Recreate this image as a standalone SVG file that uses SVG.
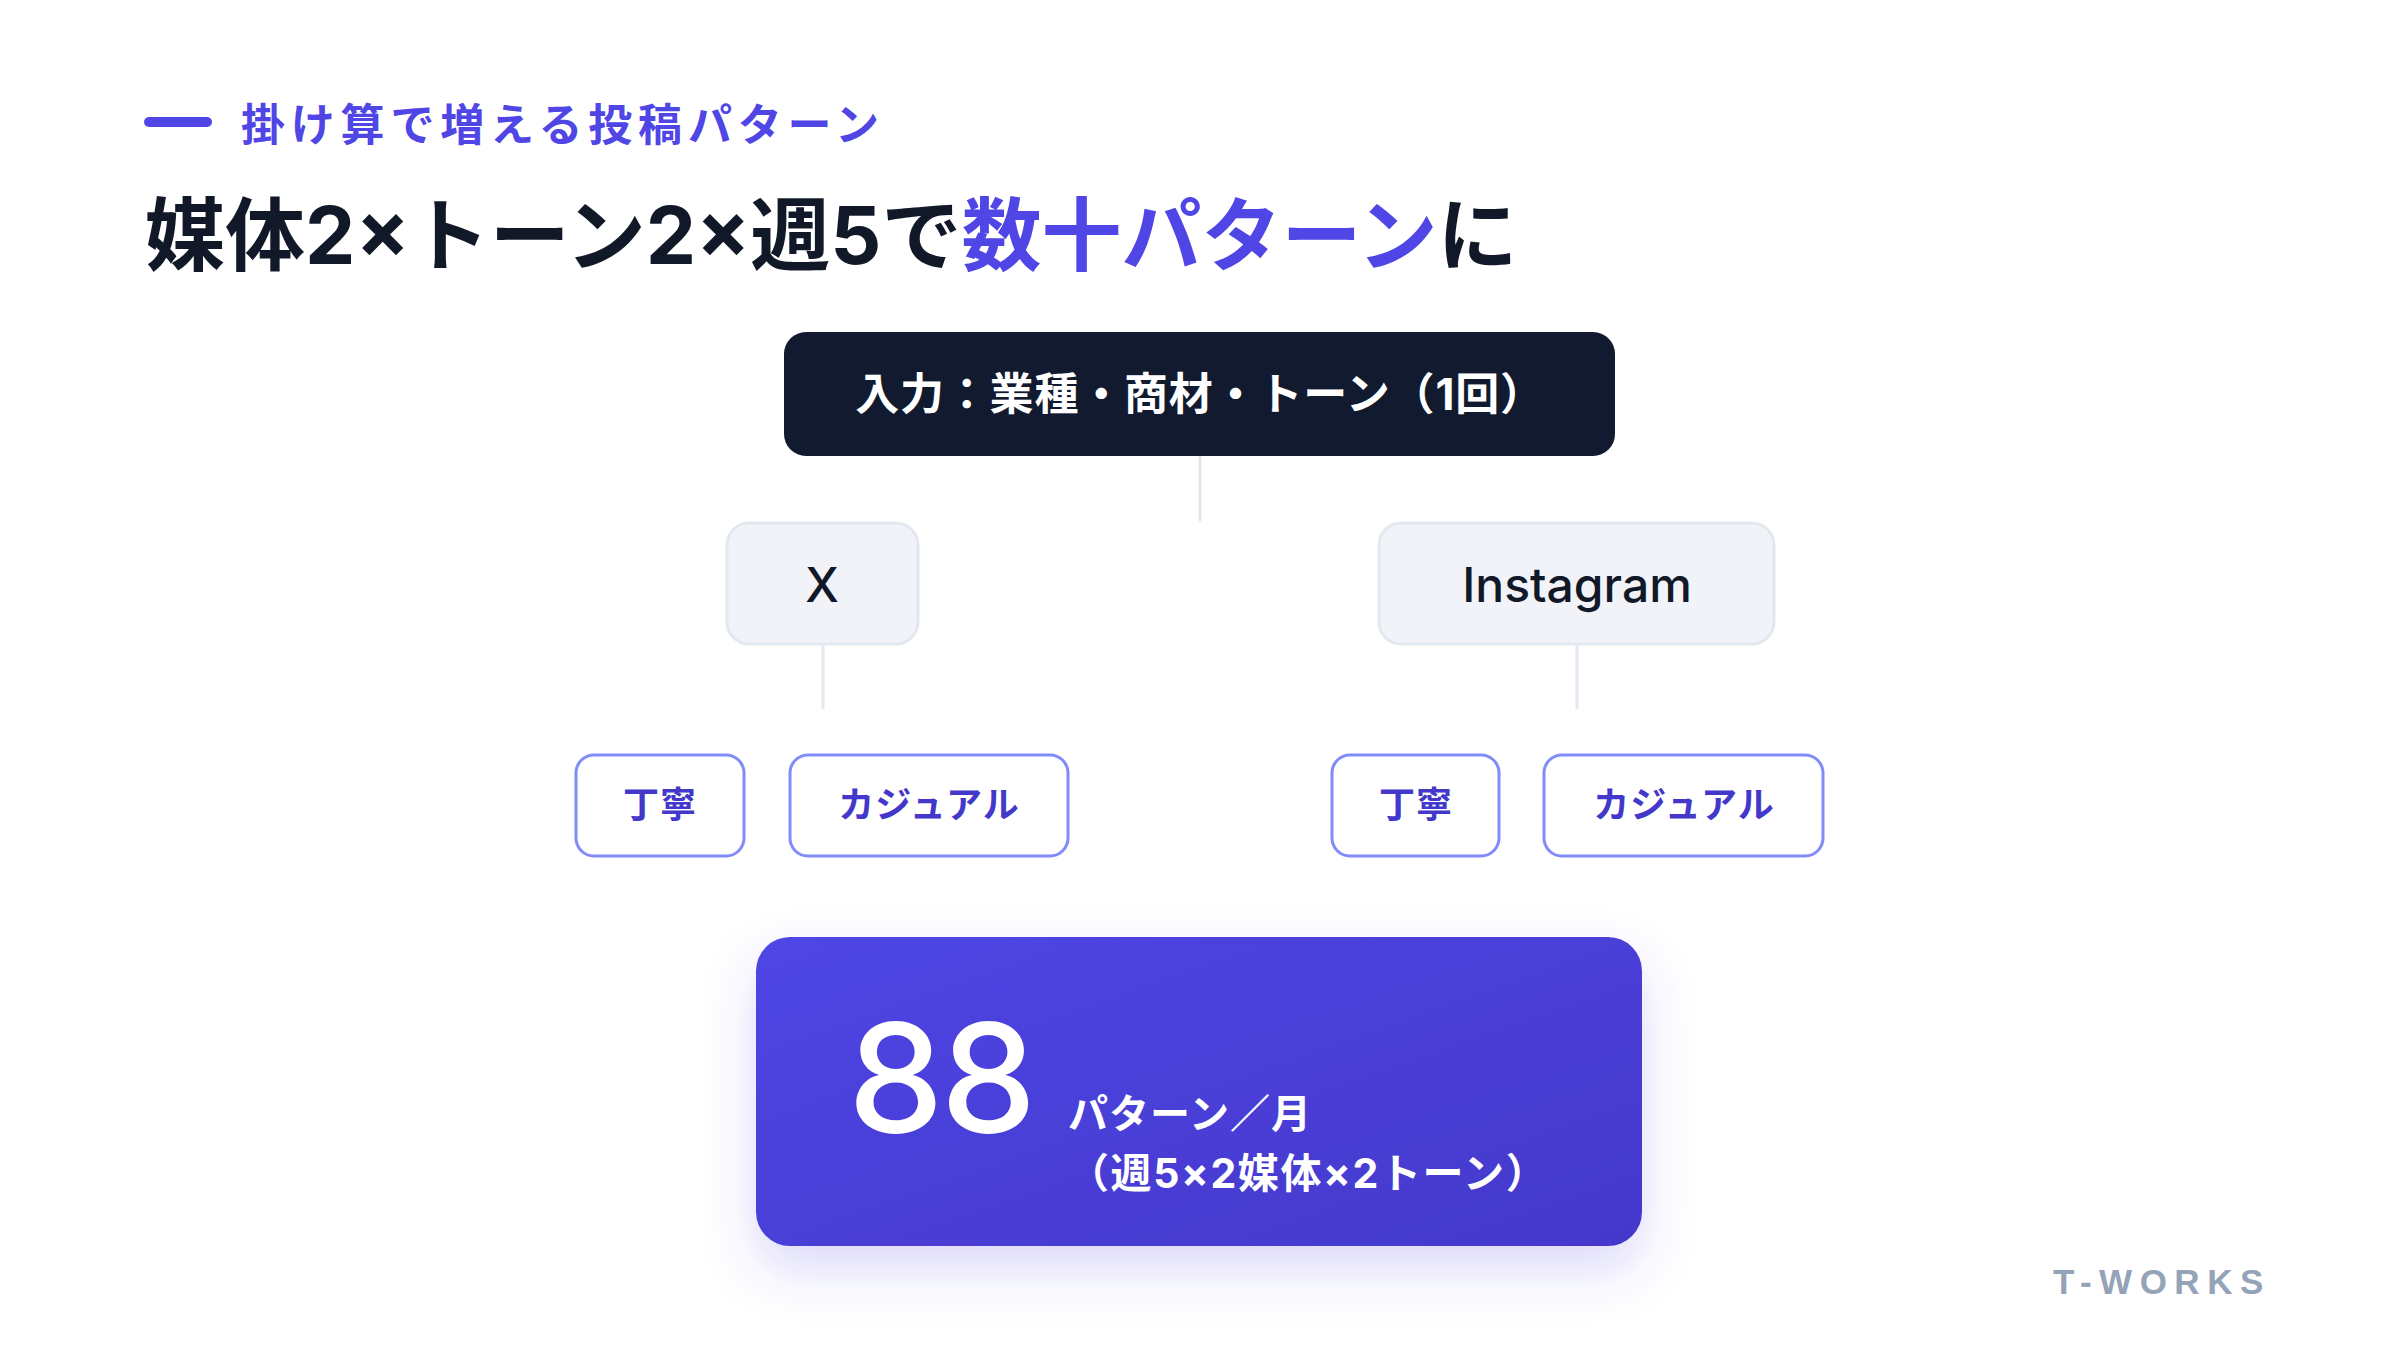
<svg xmlns="http://www.w3.org/2000/svg" width="2400" height="1350" viewBox="0 0 2400 1350">
  <defs>
    <linearGradient id="resultGrad" x1="0" y1="0" x2="1" y2="1">
      <stop offset="0" stop-color="#4f46e5"/>
      <stop offset="1" stop-color="#4338ca"/>
    </linearGradient>
    <filter id="shadow" x="-20%" y="-30%" width="140%" height="170%">
      <feDropShadow dx="0" dy="24" stdDeviation="26" flood-color="#4f46e5" flood-opacity="0.2"/>
    </filter>
    <style>
      .jp { font-family: Inter, "Noto Sans CJK JP", "Noto Sans", sans-serif; }
      .lat { font-family: Inter, "Noto Sans", "Liberation Sans", sans-serif; }
      .conn { stroke: #e2e8f0; stroke-width: 3; fill: none; }
      .media { fill: #f1f3f8; stroke: #e2e8f0; stroke-width: 3; }
      .mediaText { font-size: 48px; font-weight: 500; fill: #111827; text-anchor: middle; }
      .tone { fill: #ffffff; stroke: #818cf8; stroke-width: 3; }
      .toneText { font-size: 36px; font-weight: 700; fill: #4338ca; text-anchor: middle; letter-spacing: 1px; }
    </style>
  </defs>
  <rect width="2400" height="1350" fill="#ffffff"/>

  <g id="header">
    <rect x="144" y="117" width="68" height="10" rx="5" fill="#4f46e5"/>
    <text class="jp" x="241" y="141" font-size="44" font-weight="700" fill="#4f46e5" letter-spacing="5.8">掛け算で増える投稿パターン</text>
    <text class="jp" x="145" y="264" font-size="80" font-weight="700" fill="#111827" letter-spacing="0">媒体2×トーン2×週5で<tspan fill="#4f46e5">数十パターン</tspan>に</text>
  </g>

  <g id="connectors">
    <line class="conn" x1="1200" y1="456" x2="1200" y2="521"/>
    <line class="conn" x1="823" y1="644" x2="823" y2="709"/>
    <line class="conn" x1="1577" y1="644" x2="1577" y2="709"/>
  </g>

  <g id="input">
    <rect x="784" y="332" width="831" height="124" rx="22" fill="#111a2e"/>
    <text class="jp" x="1200" y="410" font-size="44" font-weight="700" fill="#ffffff" text-anchor="middle" letter-spacing="0.8">入力：業種・商材・トーン（1回）</text>
  </g>

  <g id="media-x">
    <rect class="media" x="727" y="523" width="191" height="121" rx="22"/>
    <text class="lat mediaText" x="822" y="602">X</text>
  </g>
  <g id="media-instagram">
    <rect class="media" x="1379" y="523" width="395" height="121" rx="22"/>
    <text class="lat mediaText" x="1577" y="602">Instagram</text>
  </g>

  <g id="x-polite">
    <rect class="tone" x="576" y="755" width="168" height="101" rx="18"/>
    <text class="jp toneText" x="660" y="818">丁寧</text>
  </g>
  <g id="x-casual">
    <rect class="tone" x="790" y="755" width="278" height="101" rx="18"/>
    <text class="jp toneText" x="929" y="818">カジュアル</text>
  </g>
  <g id="ig-polite">
    <rect class="tone" x="1332" y="755" width="167" height="101" rx="18"/>
    <text class="jp toneText" x="1416" y="818">丁寧</text>
  </g>
  <g id="ig-casual">
    <rect class="tone" x="1544" y="755" width="279" height="101" rx="18"/>
    <text class="jp toneText" x="1684" y="818">カジュアル</text>
  </g>

  <g id="result">
    <rect x="756" y="937" width="886" height="309" rx="34" fill="url(#resultGrad)" filter="url(#shadow)"/>
    <text class="lat" x="848" y="1133" font-size="152" font-weight="500" fill="#ffffff" letter-spacing="-3">88</text>
    <text class="jp" x="1068" y="1128" font-size="40" font-weight="700" fill="#ffffff" letter-spacing="1">パターン／月</text>
    <text class="jp" x="1068" y="1188" font-size="41" font-weight="700" fill="#ffffff" letter-spacing="1.6">（週5×2媒体×2トーン）</text>
  </g>

  <g id="footer">
    <text x="2053" y="1294" font-family="'Liberation Sans', Arial, sans-serif" font-size="35" font-weight="700" fill="#94a3b8" letter-spacing="7.5">T-WORKS</text>
  </g>
</svg>
